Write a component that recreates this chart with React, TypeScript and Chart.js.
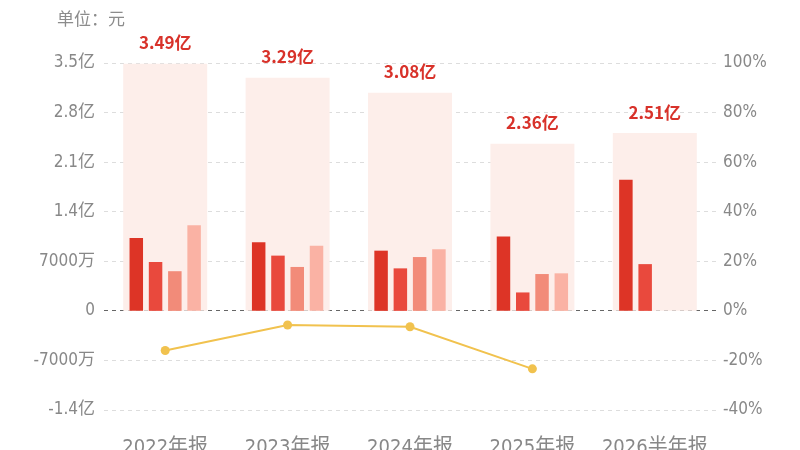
import React, { useEffect, useRef } from 'react';
import { Chart, registerables } from 'chart.js';
import type { ChartConfiguration, Plugin } from 'chart.js';

Chart.register(...registerables);

// 报告期
const categories = ['2022年报', '2023年报', '2024年报', '2025年报', '2026半年报'];
// 全年合计（亿元）
const totals = [3.49, 3.29, 3.08, 2.36, 2.51];
// 各季度（亿元）
const q1 = [1.03, 0.97, 0.85, 1.05, 1.85];
const q2 = [0.69, 0.78, 0.6, 0.26, 0.66];
const q3 = [0.56, 0.62, 0.76, 0.52, null];
const q4 = [1.21, 0.92, 0.87, 0.53, null];
// 同比增长（%）
const growth = [-16.0, -5.7, -6.4, -23.4, null];

const FONT = "'Liberation Sans Narrow', 'DejaVu Sans Condensed', 'Noto Sans CJK SC', sans-serif";
const CJK = "'Noto Sans CJK SC', sans-serif";

const fmtLeft = (v: number) => {
  if (Math.abs(v) < 1e-9) return '0';
  if (Math.abs(v) < 1) return `${Math.round(v * 10000)}万`;
  return `${+v.toFixed(1)}亿`;
};

const labelPlugin: Plugin = {
  id: 'totalLabels',
  afterDatasetsDraw(chart) {
    const { ctx } = chart;
    const meta = chart.getDatasetMeta(0);
    ctx.save();
    ctx.fillStyle = '#d8322a';
    ctx.font = `bold 17px ${CJK}`;
    ctx.textAlign = 'center';
    ctx.textBaseline = 'middle';
    meta.data.forEach((el: any, i) => {
      ctx.fillText(`${totals[i].toFixed(2)}亿`, el.x, el.y - 21);
    });
    ctx.fillStyle = '#8c8c8c';
    ctx.font = `17px ${CJK}`;
    ctx.textAlign = 'left';
    ctx.fillText('单位：元', 57, 19);
    ctx.restore();
  },
};

const App: React.FC = () => {
  const chartRef = useRef<HTMLCanvasElement>(null);
  const chartInstanceRef = useRef<Chart | null>(null);

  useEffect(() => {
    if (!chartRef.current) return;
    if (chartInstanceRef.current) chartInstanceRef.current.destroy();
    const ctx = chartRef.current.getContext('2d');
    if (!ctx) return;

    const quarterBar = (data: (number | null)[], color: string) => ({
      type: 'bar' as const,
      data,
      backgroundColor: color,
      yAxisID: 'y',
      categoryPercentage: 0.63,
      barPercentage: 0.7,
      order: 1,
    });

    const config: ChartConfiguration = {
      type: 'bar',
      data: {
        labels: categories,
        datasets: [
          {
            type: 'bar',
            data: totals,
            backgroundColor: '#fdeeea',
            yAxisID: 'y',
            grouped: false,
            categoryPercentage: 0.69,
            barPercentage: 1,
            maxBarThickness: 84,
            order: 2,
          } as any,
          quarterBar(q1, '#dd3426'),
          quarterBar(q2, '#e9493d'),
          quarterBar(q3, '#f28b79'),
          quarterBar(q4, '#fab2a4'),
          {
            type: 'line',
            data: growth,
            yAxisID: 'y1',
            borderColor: '#f1c24e',
            backgroundColor: '#f1c24e',
            borderWidth: 2,
            pointRadius: 4.5,
            pointBackgroundColor: '#f1c24e',
            pointBorderWidth: 0,
            tension: 0,
            order: 0,
          } as any,
        ],
      },
      options: {
        animation: false,
        responsive: true,
        maintainAspectRatio: false,
        layout: { padding: { top: 63, left: 0, right: 0, bottom: 0 } },
        plugins: {
          legend: { display: false },
          tooltip: { enabled: false },
        },
        scales: {
          x: {
            grid: { display: false },
            border: { display: false },
            ticks: {
              color: '#888888',
              font: { size: 20, family: FONT },
              padding: 18,
              maxRotation: 0,
            },
            afterFit: (scale: any) => {
              scale.height = 40;
            },
          },
          y: {
            position: 'left',
            min: -1.4,
            max: 3.5,
            ticks: {
              stepSize: 0.7,
              color: '#888888',
              font: { size: 17, family: FONT },
              padding: 9,
              callback: (v: any) => fmtLeft(Number(v)),
            },
            grid: {
              drawTicks: false,
              color: (c: any) => (Math.abs(c.tick.value) < 1e-9 ? '#666666' : '#dddddd'),
              lineWidth: 1,
            },
            border: { display: false, dash: [4, 4] },
            afterFit: (scale: any) => {
              scale.width = 104;
            },
          },
          y1: {
            position: 'right',
            min: -40,
            max: 100,
            ticks: {
              stepSize: 20,
              color: '#888888',
              font: { size: 17, family: FONT },
              padding: 7,
              callback: (v: any) => `${v}%`,
            },
            grid: { drawOnChartArea: false, drawTicks: false },
            border: { display: false },
            afterFit: (scale: any) => {
              scale.width = 84;
            },
          },
        },
      },
      plugins: [labelPlugin],
    };

    chartInstanceRef.current = new Chart(ctx, config);

    return () => {
      if (chartInstanceRef.current) {
        chartInstanceRef.current.destroy();
        chartInstanceRef.current = null;
      }
    };
  }, []);

  return (
    <div style={{ position: 'fixed', left: 0, top: 0, width: 800, height: 450, background: '#ffffff' }}>
      <canvas ref={chartRef}></canvas>
    </div>
  );
};

export default App;
